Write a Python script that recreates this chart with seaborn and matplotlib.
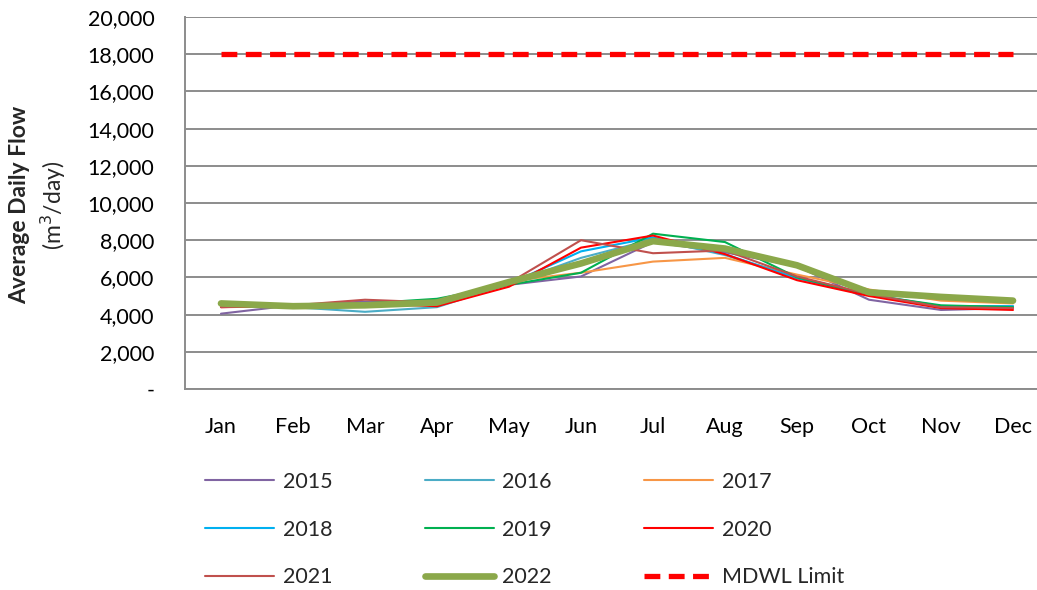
import numpy as np
import pandas as pd
import seaborn as sns
import matplotlib
matplotlib.use('Agg')
import matplotlib.pyplot as plt
from matplotlib.lines import Line2D
from matplotlib.ticker import FuncFormatter, MultipleLocator

# dati (portata media giornaliera, m3/giorno)
months = ['Jan', 'Feb', 'Mar', 'Apr', 'May', 'Jun', 'Jul', 'Aug', 'Sep', 'Oct', 'Nov', 'Dec']
flow_2015 = [4050, 4500, 4700, 4600, 5600, 6050, 7900, 7350, 6600, 4800, 4250, 4350]
flow_2016 = [4650, 4400, 4150, 4400, 5650, 7050, 8050, 7200, 6000, 5100, 4450, 4450]
flow_2017 = [4550, 4450, 4550, 4750, 5800, 6250, 6850, 7050, 6150, 5350, 4750, 4600]
flow_2018 = [4500, 4450, 4600, 4550, 5650, 7400, 8150, 7250, 5950, 5050, 4450, 4450]
flow_2019 = [4550, 4450, 4600, 4850, 5600, 6250, 8350, 7900, 6000, 5050, 4500, 4400]
flow_2020 = [4400, 4450, 4600, 4450, 5500, 7600, 8250, 7250, 5850, 5000, 4350, 4250]
flow_2021 = [4400, 4500, 4800, 4650, 5700, 8000, 7300, 7450, 6050, 5100, 4400, 4350]
flow_2022 = [4600, 4450, 4500, 4650, 5750, 6750, 7950, 7550, 6650, 5200, 4950, 4750]
mdwl_limit = [18000] * 12

years = ['2015', '2016', '2017', '2018', '2019', '2020', '2021', '2022']
series = [flow_2015, flow_2016, flow_2017, flow_2018, flow_2019, flow_2020, flow_2021, flow_2022]
colors = ['#8064A2', '#4BACC6', '#F79646', '#00B0F0', '#00B050', '#FF0000', '#C0504D', '#8BA84A']
widths = [1.5] * 7 + [4.8]

df = pd.DataFrame({
    'month': months * len(years),
    'flow': np.concatenate(series),
    'year': np.repeat(years, len(months)),
})

sns.set_theme(style='white')
plt.rcParams['font.family'] = ['Lato', 'DejaVu Sans']
fs = 15.5

fig = plt.figure(figsize=(10.37, 5.9), dpi=100)
ax = fig.add_axes([185 / 1037, 1 - 389 / 590, (1049 - 185) / 1037, (389 - 17) / 590])

# linee annuali
sns.lineplot(data=df, x='month', y='flow', hue='year', size='year',
             palette=dict(zip(years, colors)), sizes=dict(zip(years, widths)),
             sort=False, legend=False, ax=ax)

# limite MDWL
sns.lineplot(x=months, y=mdwl_limit, color='#FF0000', ax=ax, sort=False)
limit_line = ax.lines[-1]
limit_line.set_linewidth(3.8)
limit_line.set_dashes([3, 1.6])
limit_line.set_dash_capstyle('butt')

ax.set_xlim(-0.5, 11.5)
ax.set_ylim(0, 20000)
ax.yaxis.set_major_locator(MultipleLocator(2000))
ax.yaxis.set_major_formatter(FuncFormatter(lambda v, p: '-' if v == 0 else f'{v:,.0f}'))
ax.grid(axis='y', color='#8C8C8C', linewidth=1.4)
ax.set_axisbelow(True)

for s in ['top', 'right']:
    ax.spines[s].set_visible(False)
for s in ['left', 'bottom']:
    ax.spines[s].set_color('#8C8C8C')
    ax.spines[s].set_linewidth(1.4)

ax.set_xticks(np.arange(-0.5, 12, 1), minor=True)
ax.tick_params(axis='x', which='major', length=0, pad=20, labelsize=fs, colors='black')
ax.tick_params(axis='x', which='minor', length=6, width=1.4, color='#8C8C8C', direction='out')
ax.tick_params(axis='y', which='major', length=6, width=1.4, color='#8C8C8C', direction='out',
               pad=16, labelsize=fs, labelcolor='black')
ax.set_xlabel('')
ax.set_ylabel('')

# etichetta asse y su due righe
fig.text(20 / 1037, 1 - 205 / 590, 'Average Daily Flow', rotation=90, ha='center', va='center',
         fontsize=16.5, fontweight='bold')
fig.text(53 / 1037, 1 - 205 / 590, '(m$^3$/day)', rotation=90, ha='center', va='center',
         fontsize=16.5)

# legenda (ordine per colonne)
handles = [Line2D([], [], color=c, lw=w) for c, w in zip(colors, widths)]
handles.append(Line2D([], [], color='#FF0000', lw=3.8, dashes=[3, 1.6], dash_capstyle='butt'))
labels = years + ['MDWL Limit']
order = [0, 3, 6, 1, 4, 7, 2, 5, 8]
fig.legend([handles[i] for i in order], [labels[i] for i in order],
           loc='upper left', bbox_to_anchor=(205 / 1037, 1 - 472 / 590), ncol=3,
           frameon=False, fontsize=fs, handlelength=3.2, handletextpad=0.4,
           columnspacing=4.3, labelspacing=1.28, borderpad=0, borderaxespad=0)

fig.savefig('out.png', dpi=100)
